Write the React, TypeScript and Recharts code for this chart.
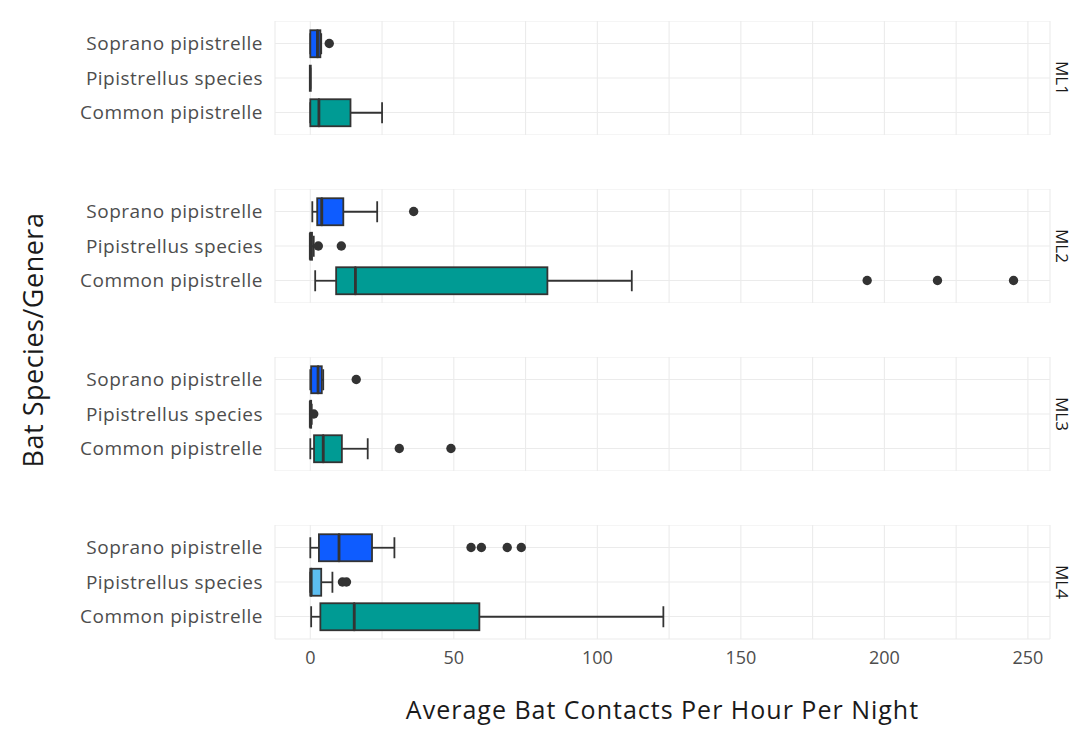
import React from 'react';
import { ComposedChart, Bar, Scatter, XAxis, YAxis, CartesianGrid } from 'recharts';

const FACETS = ['ML1', 'ML2', 'ML3', 'ML4'];
const SPECIES = ['Soprano pipistrelle', 'Pipistrellus species', 'Common pipistrelle'];
const X_TICKS = [0, 25, 50, 75, 100, 125, 150, 175, 200, 225, 250];

// per facet, per species [Soprano, Pipistrellus, Common]
const whiskerLow = [[0, 0, 0], [0.7, 0, 1.7], [0, 0, 0], [0, 0, 0.3]];
const q1 = [[0, 0, 0], [2.4, 0, 9], [0.3, 0, 1.3], [3, 0, 3.5]];
const median = [[2.5, 0, 3], [4, 0, 15.7], [2.7, 0, 4.5], [10, 0.3, 15.3]];
const q3 = [[3.5, 0, 14], [11.5, 0.6, 82.6], [4, 0.3, 11], [21.5, 3.8, 58.9]];
const whiskerHigh = [[3.8, 0, 25], [23.3, 1.2, 112], [4.5, 0.5, 20], [29.3, 7.7, 123]];
const outliers = [
  [[6.6], [], []],
  [[36], [2.8, 10.8], [194, 218.5, 245]],
  [[16], [1.2], [31, 49]],
  [[56, 59.6, 68.6, 73.5], [11.2, 12.6], []],
];

const COLORS: Record<string, string> = {
  'Soprano pipistrelle': '#0E5CFF',
  'Pipistrellus species': '#5CBDF0',
  'Common pipistrelle': '#009B94',
};
const STROKE = '#333333';
const FONT = '"Open Sans", sans-serif';
const LW = 1.8;

const Empty = () => <g />;

const WhiskerLeft = (p: any) => {
  const { x, y, width, height } = p;
  const cy = y + height / 2;
  return (
    <g>
      <line x1={x} x2={x + width} y1={cy} y2={cy} stroke={STROKE} strokeWidth={LW} />
      <line x1={x} x2={x} y1={y + 3} y2={y + height - 3} stroke={STROKE} strokeWidth={LW} />
    </g>
  );
};

const WhiskerRight = (p: any) => {
  const { x, y, width, height } = p;
  const cy = y + height / 2;
  return (
    <g>
      <line x1={x} x2={x + width} y1={cy} y2={cy} stroke={STROKE} strokeWidth={LW} />
      <line x1={x + width} x2={x + width} y1={y + 3} y2={y + height - 3} stroke={STROKE} strokeWidth={LW} />
    </g>
  );
};

const BoxLow = (p: any) => {
  const { x, y, width, height, payload } = p;
  return <rect x={x} y={y} width={Math.max(width, 0)} height={height} fill={COLORS[payload.sp]} stroke={STROKE} strokeWidth={LW} />;
};

const BoxHigh = (p: any) => {
  const { x, y, width, height, payload } = p;
  return (
    <g>
      <rect x={x} y={y} width={Math.max(width, 0)} height={height} fill={COLORS[payload.sp]} stroke={STROKE} strokeWidth={LW} />
      <line x1={x} x2={x} y1={y} y2={y + height} stroke={STROKE} strokeWidth={2.8} />
    </g>
  );
};

const OutlierDot = (p: any) => <circle cx={p.cx} cy={p.cy} r={4.7} fill={STROKE} />;

function Facet({ fi, showAxis }: { fi: number; showAxis: boolean }) {
  const data = SPECIES.map((sp, si) => ({
    sp,
    base: whiskerLow[fi][si],
    wl: q1[fi][si] - whiskerLow[fi][si],
    b1: median[fi][si] - q1[fi][si],
    b2: q3[fi][si] - median[fi][si],
    wr: whiskerHigh[fi][si] - q3[fi][si],
  }));
  const pts = SPECIES.flatMap((sp, si) => outliers[fi][si].map((v) => ({ sp, v })));
  return (
    <ComposedChart
      layout="vertical"
      width={1064}
      height={showAxis ? 201 : 114}
      data={data}
      margin={{ top: 0, right: 22, bottom: 0, left: 0 }}
      barCategoryGap={0}
    >
      <CartesianGrid stroke="#EBEBEB" strokeWidth={1.1} />
      <XAxis
        type="number"
        domain={[-12.3, 257.7]}
        ticks={X_TICKS}
        allowDataOverflow
        hide={!showAxis}
        height={showAxis ? 87 : 0}
        axisLine={false}
        tickLine={false}
        tickSize={0}
        tickMargin={12}
        tickFormatter={(v: number) => (v % 50 === 0 ? String(v) : '')}
        tick={{ fill: '#4D4D4D', fontSize: 18, fontFamily: FONT }}
        label={
          showAxis
            ? {
                value: 'Average Bat Contacts Per Hour Per Night',
                position: 'insideBottom',
                offset: 7,
                fill: '#1A1A1A',
                fontSize: 25,
                fontFamily: FONT,
                letterSpacing: 1,
              }
            : undefined
        }
      />
      <YAxis
        type="category"
        dataKey="sp"
        width={267}
        allowDuplicatedCategory={false}
        padding={{ top: 5.25, bottom: 5.25 }}
        axisLine={false}
        tickLine={false}
        tickSize={0}
        tickMargin={12}
        tick={{ fill: '#4D4D4D', fontSize: 19, fontFamily: FONT, letterSpacing: 0.5 }}
      />
      <Bar dataKey="base" stackId="s" barSize={27} shape={Empty} isAnimationActive={false} />
      <Bar dataKey="wl" stackId="s" barSize={27} shape={WhiskerLeft} isAnimationActive={false} />
      <Bar dataKey="b1" stackId="s" barSize={27} shape={BoxLow} isAnimationActive={false} />
      <Bar dataKey="b2" stackId="s" barSize={27} shape={BoxHigh} isAnimationActive={false} />
      <Bar dataKey="wr" stackId="s" barSize={27} shape={WhiskerRight} isAnimationActive={false} />
      <Scatter data={pts} dataKey="v" shape={OutlierDot} isAnimationActive={false} />
    </ComposedChart>
  );
}

const PANEL_TOPS = [12.5, 180.5, 348.5, 516.5];

export default function App() {
  return (
    <div style={{ position: 'relative', width: 1064, height: 718, fontFamily: FONT, background: '#fff' }}>
      {FACETS.map((f, fi) => (
        <div key={f} style={{ position: 'absolute', left: 0, top: PANEL_TOPS[fi] }}>
          <Facet fi={fi} showAxis={fi === FACETS.length - 1} />
        </div>
      ))}
      {FACETS.map((f, fi) => (
        <div
          key={'s' + f}
          style={{
            position: 'absolute',
            left: 1045,
            top: PANEL_TOPS[fi] + 57 - 17,
            height: 34,
            width: 18,
            writingMode: 'vertical-rl',
            textAlign: 'center',
            fontSize: 17,
            color: '#1A1A1A',
            whiteSpace: 'nowrap',
            lineHeight: '18px',
          }}
        >
          {f}
        </div>
      ))}
      <div
        style={{
          position: 'absolute',
          left: 24,
          top: 332,
          transform: 'translate(-50%, -50%) rotate(-90deg)',
          fontSize: 27,
          letterSpacing: 0.5,
          color: '#1A1A1A',
          whiteSpace: 'nowrap',
          lineHeight: 1,
        }}
      >
        Bat Species/Genera
      </div>
    </div>
  );
}
